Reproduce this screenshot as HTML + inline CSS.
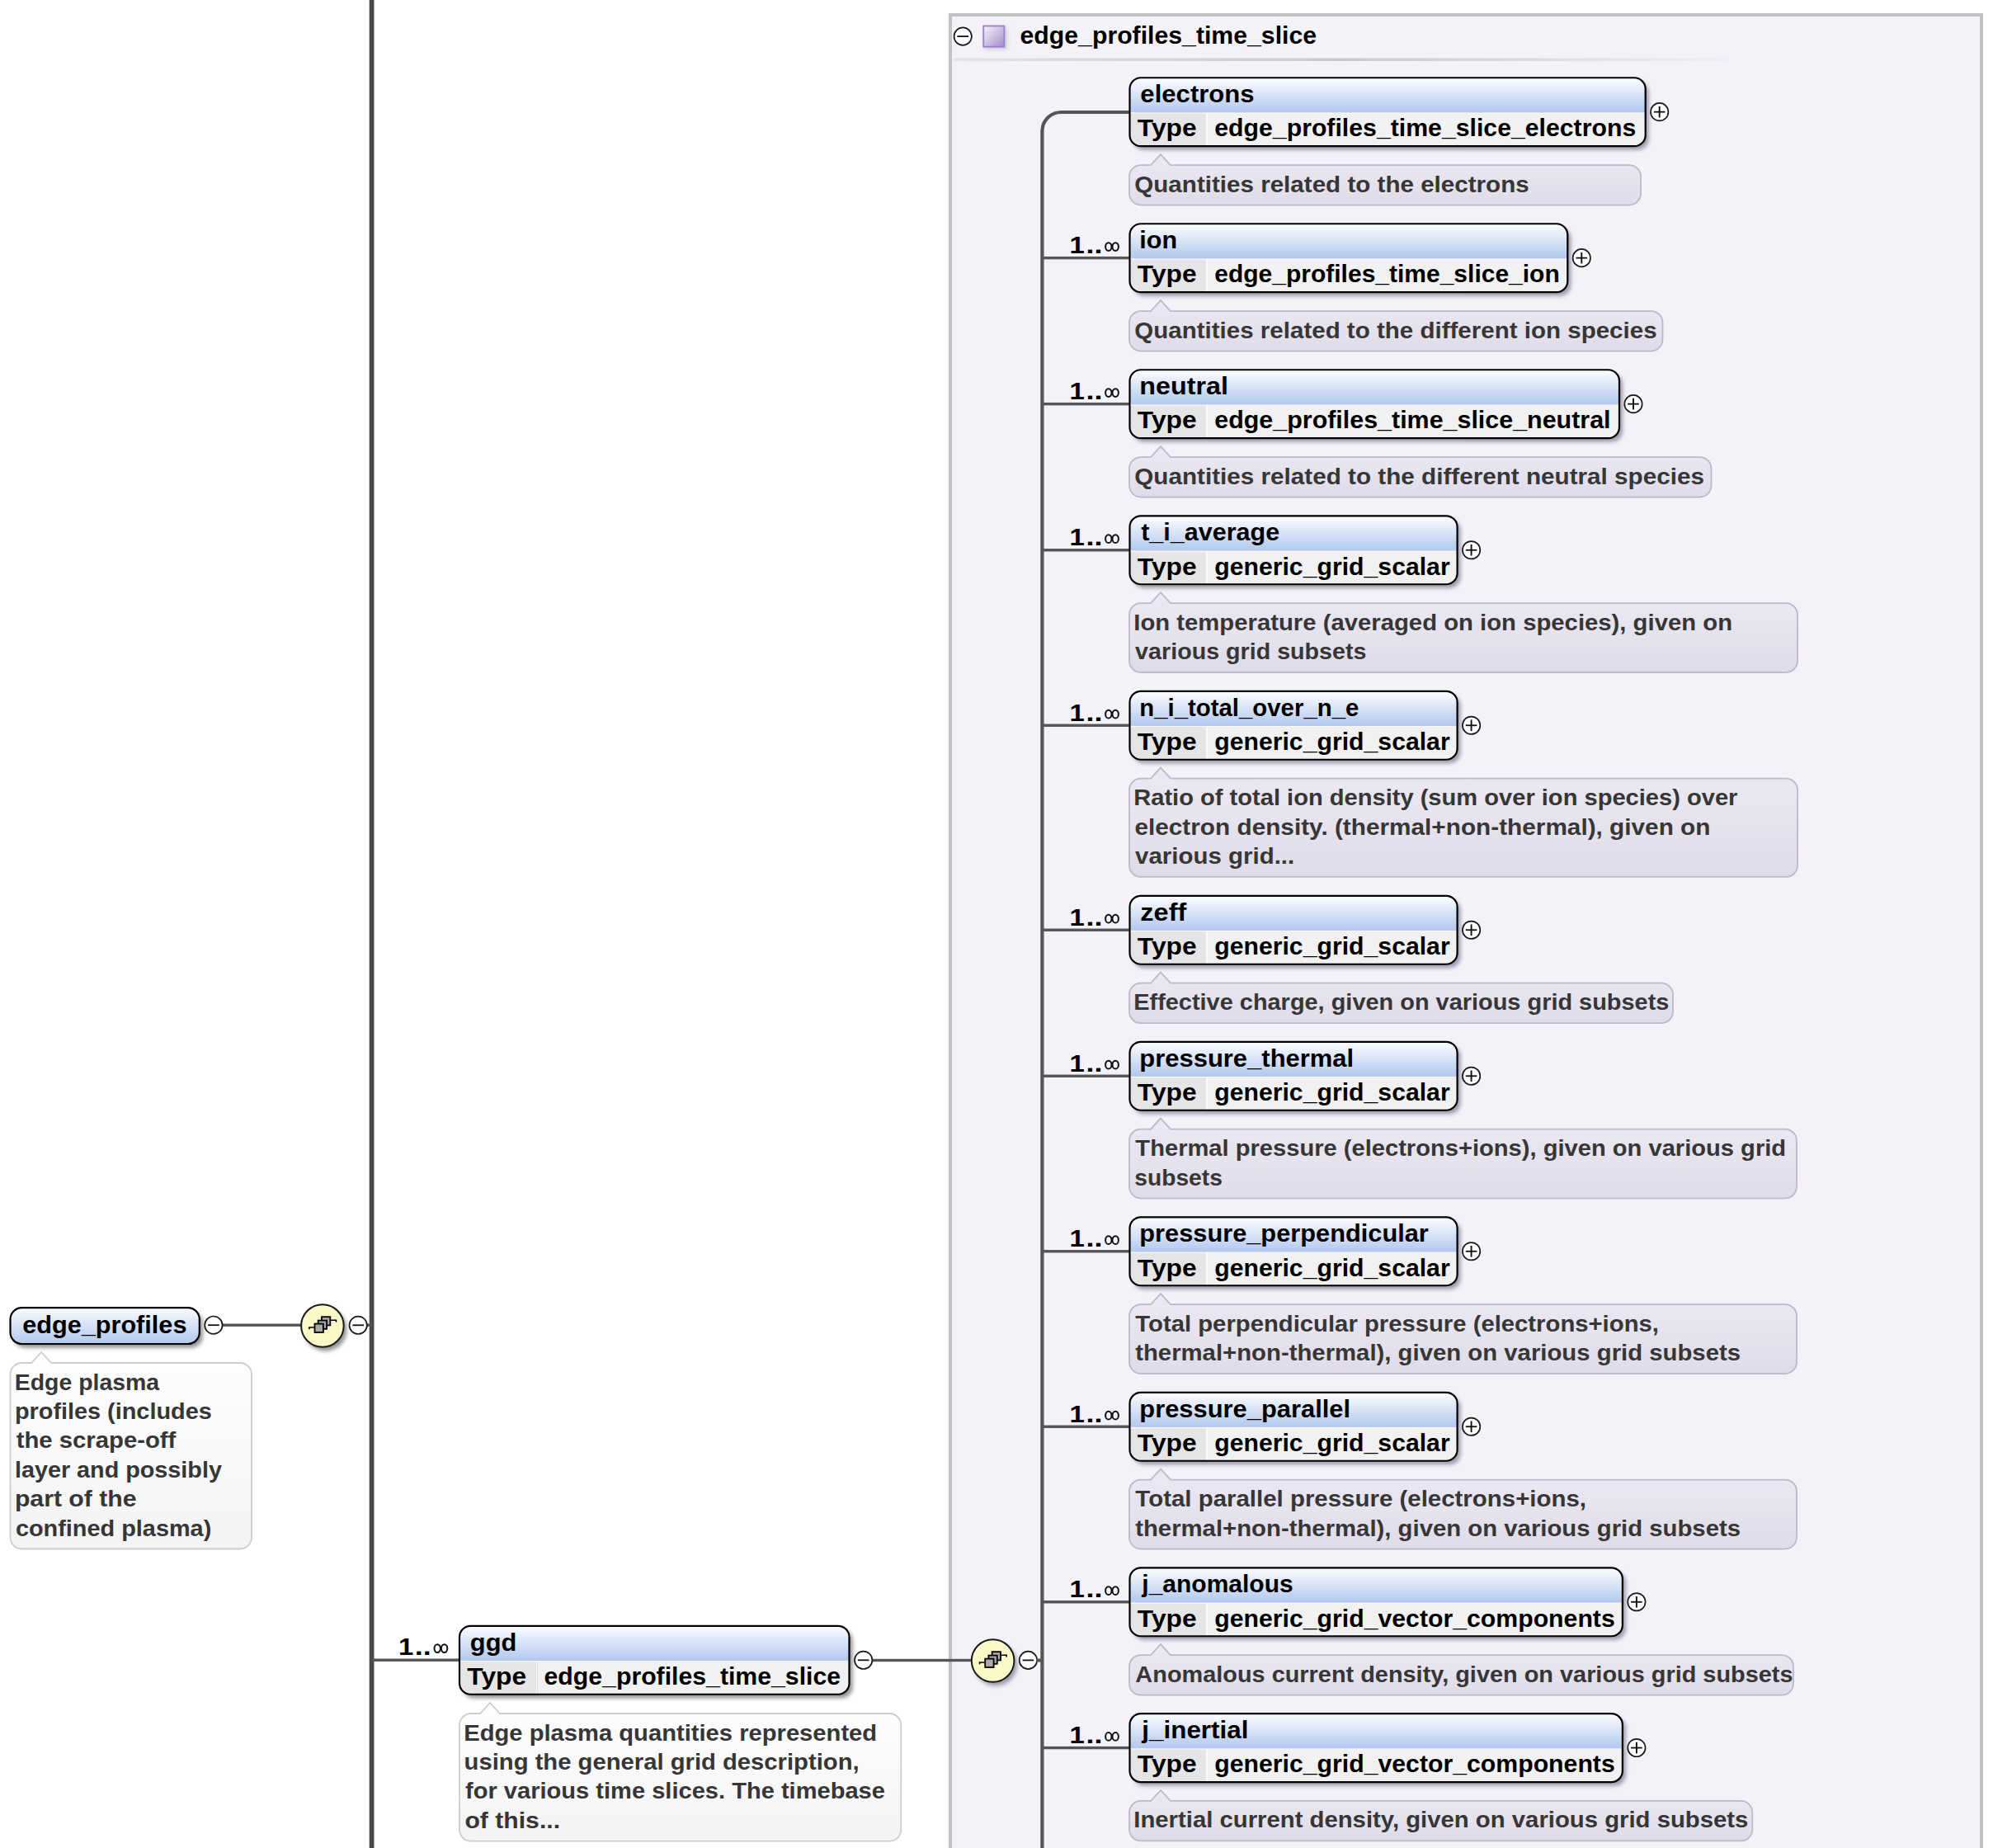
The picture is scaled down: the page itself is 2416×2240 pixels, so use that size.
<!DOCTYPE html>
<html><head><meta charset="utf-8"><style>
html,body{margin:0;padding:0;background:#fff;width:2416px;height:2240px;overflow:hidden}
svg{display:block}
text{font-family:"Liberation Sans",sans-serif}
</style></head><body>
<svg width="2416" height="2240" viewBox="0 0 2416 2240">
<g>
<rect width="2416" height="2240" fill="#fff"/>
<defs>
<linearGradient id="hdr" x1="0" y1="0" x2="0" y2="1"><stop offset="0" stop-color="#ffffff"/><stop offset="1" stop-color="#b2c8ee"/></linearGradient>
<linearGradient id="pill" x1="0" y1="0" x2="0" y2="1"><stop offset="0" stop-color="#f9fbff"/><stop offset="1" stop-color="#b2c8ee"/></linearGradient>
<linearGradient id="annl" x1="0" y1="0" x2="0" y2="1"><stop offset="0" stop-color="#ede9f4"/><stop offset="1" stop-color="#dfdbe8"/></linearGradient>
<linearGradient id="annw" x1="0" y1="0" x2="0" y2="1"><stop offset="0" stop-color="#fefefe"/><stop offset="1" stop-color="#f3f3f3"/></linearGradient>
<linearGradient id="sep" x1="0" y1="0" x2="1" y2="0"><stop offset="0" stop-color="#e4e2ea"/><stop offset="0.5" stop-color="#c9c9c9"/><stop offset="1" stop-color="#f0eef6"/></linearGradient>
<linearGradient id="purp" x1="0" y1="0" x2="1" y2="1"><stop offset="0" stop-color="#f6f4fb"/><stop offset="1" stop-color="#a48ccc"/></linearGradient>
<filter id="blur" x="-20%" y="-40%" width="140%" height="180%"><feGaussianBlur stdDeviation="2.6"/></filter>
</defs>
<rect x="1152" y="18" width="1250" height="2240" fill="#f4f2f8" stroke="#c2c2c2" stroke-width="4"/>
<rect x="1156" y="70.5" width="940" height="3.5" fill="url(#sep)"/>
<circle cx="1167.2" cy="44.1" r="10.7" fill="#fff" stroke="#1a1a1a" stroke-width="1.7"/>
<line x1="1160.4" y1="44.1" x2="1174.0" y2="44.1" stroke="#111" stroke-width="1.8"/>
<rect x="1194" y="33" width="27" height="27" fill="#c4c4c4" opacity="0.8" filter="url(#blur)"/>
<rect x="1192.2" y="31.5" width="25.2" height="25.2" fill="url(#purp)" stroke="#9a7fcf" stroke-width="1.8"/>
<text x="1236.57" y="53.40" font-size="29.46" fill="#000" font-weight="bold" textLength="359.54" lengthAdjust="spacingAndGlyphs">edge_profiles_time_slice</text>
<rect x="447.70000000000005" y="0" width="5.8" height="2240" fill="#4a4a4a"/>
<path d="M26.5,1585.2 H227.8 A14,14 0 0 1 241.8,1599.2 V1615 A14,14 0 0 1 227.8,1629 H26.5 A14,14 0 0 1 12.5,1615 V1599.2 A14,14 0 0 1 26.5,1585.2 Z" transform="translate(4,4.5)" fill="#555555" opacity="0.65" filter="url(#blur)"/>
<path d="M26.5,1585.2 H227.8 A14,14 0 0 1 241.8,1599.2 V1615 A14,14 0 0 1 227.8,1629 H26.5 A14,14 0 0 1 12.5,1615 V1599.2 A14,14 0 0 1 26.5,1585.2 Z" fill="url(#pill)" stroke="#000" stroke-width="2.2"/>
<text x="27.17" y="1615.50" font-size="29.46" fill="#000" font-weight="bold" textLength="199.30" lengthAdjust="spacingAndGlyphs">edge_profiles</text>
<rect x="270" y="1604.5" width="96" height="3.4" fill="#555"/>
<circle cx="258.9" cy="1606.2" r="10.7" fill="#fff" stroke="#1a1a1a" stroke-width="1.7"/>
<line x1="252.09999999999997" y1="1606.2" x2="265.7" y2="1606.2" stroke="#111" stroke-width="1.8"/>
<circle cx="394.4" cy="1611.5" r="26" fill="#555" opacity="0.65" filter="url(#blur)"/>
<circle cx="390.9" cy="1607" r="25.8" fill="#fbf8c8" stroke="#1a1a1a" stroke-width="2"/>
<path d="M374.9 1611.2 V1609 H380.9 M400.9 1600.3 H407.5 V1602.5" fill="none" stroke="#000" stroke-width="1.6"/>
<rect x="389.9" y="1596.2" width="10.4" height="10.200000000000001" fill="#a9a9a9" stroke="#000" stroke-width="1.8"/>
<rect x="385.7" y="1600.6" width="10.4" height="10.2" fill="#a9a9a9" stroke="#000" stroke-width="1.8"/>
<rect x="381.5" y="1604.6" width="10.4" height="10.4" fill="#a9a9a9" stroke="#000" stroke-width="1.8"/>
<rect x="444" y="1604.5" width="7" height="3.4" fill="#555"/>
<circle cx="434.2" cy="1606.3" r="10.7" fill="#fff" stroke="#1a1a1a" stroke-width="1.7"/>
<line x1="427.4" y1="1606.3" x2="441.0" y2="1606.3" stroke="#111" stroke-width="1.8"/>
<path d="M26.5,1652 H38.2 L50.2,1639 L62.2,1652 H291 A14,14 0 0 1 305,1666 V1863.5 A14,14 0 0 1 291,1877.5 H26.5 A14,14 0 0 1 12.5,1863.5 V1666 A14,14 0 0 1 26.5,1652 Z" fill="url(#annw)" stroke="#cdcdcd" stroke-width="1.8"/>
<text x="17.76" y="1684.50" font-size="27.33" fill="#363636" font-weight="bold" textLength="175.35" lengthAdjust="spacingAndGlyphs">Edge plasma</text>
<text x="17.95" y="1719.90" font-size="27.33" fill="#363636" font-weight="bold" textLength="238.79" lengthAdjust="spacingAndGlyphs">profiles (includes</text>
<text x="19.68" y="1755.30" font-size="27.33" fill="#363636" font-weight="bold" textLength="193.70" lengthAdjust="spacingAndGlyphs">the scrape-off</text>
<text x="17.95" y="1790.70" font-size="27.33" fill="#363636" font-weight="bold" textLength="250.98" lengthAdjust="spacingAndGlyphs">layer and possibly</text>
<text x="17.95" y="1826.10" font-size="27.33" fill="#363636" font-weight="bold" textLength="147.58" lengthAdjust="spacingAndGlyphs">part of the</text>
<text x="18.95" y="1861.50" font-size="27.33" fill="#363636" font-weight="bold" textLength="237.32" lengthAdjust="spacingAndGlyphs">confined plasma)</text>
<rect x="450.6" y="2010.5" width="106.39999999999998" height="3.4" fill="#555"/>
<text x="483.03" y="2006.30" font-size="29.46" fill="#000" font-weight="bold" textLength="18.30" lengthAdjust="spacingAndGlyphs">1</text>
<text x="502.83" y="2006.30" font-size="29.46" fill="#000" font-weight="bold" textLength="9.99" lengthAdjust="spacingAndGlyphs">.</text>
<text x="512.82" y="2006.30" font-size="29.46" fill="#000" font-weight="bold" textLength="9.99" lengthAdjust="spacingAndGlyphs">.</text>
<ellipse cx="530.2" cy="1998.1" rx="3.7" ry="4.9" fill="none" stroke="#111" stroke-width="2.0"/>
<ellipse cx="538.6" cy="1998.1" rx="3.7" ry="4.9" fill="none" stroke="#111" stroke-width="2.0"/>
<path d="M570.5,1970.86 H1016.0 A13.5,13.5 0 0 1 1029.5,1984.36 V2040.2599999999998 A13.5,13.5 0 0 1 1016.0,2053.7599999999998 H570.5 A13.5,13.5 0 0 1 557,2040.2599999999998 V1984.36 A13.5,13.5 0 0 1 570.5,1970.86 Z" transform="translate(4,4.5)" fill="#555555" opacity="0.65" filter="url(#blur)"/>
<clipPath id="c1"><path d="M570.5,1970.86 H1016.0 A13.5,13.5 0 0 1 1029.5,1984.36 V2040.2599999999998 A13.5,13.5 0 0 1 1016.0,2053.7599999999998 H570.5 A13.5,13.5 0 0 1 557,2040.2599999999998 V1984.36 A13.5,13.5 0 0 1 570.5,1970.86 Z"/></clipPath>
<g clip-path="url(#c1)">
<rect x="556" y="1969.86" width="474.5" height="43" fill="url(#hdr)"/>
<rect x="556" y="2012.86" width="474.5" height="2" fill="#f8f8f8"/>
<rect x="556" y="2014.36" width="93.29999999999995" height="40.399999999999864" fill="#e5e5e5"/>
<rect x="649.3" y="2014.36" width="2" height="40.399999999999864" fill="#fafafa"/>
<rect x="651.3" y="2014.36" width="379.20000000000005" height="40.399999999999864" fill="#f1f1f1"/>
</g>
<path d="M570.5,1970.86 H1016.0 A13.5,13.5 0 0 1 1029.5,1984.36 V2040.2599999999998 A13.5,13.5 0 0 1 1016.0,2053.7599999999998 H570.5 A13.5,13.5 0 0 1 557,2040.2599999999998 V1984.36 A13.5,13.5 0 0 1 570.5,1970.86 Z" fill="none" stroke="#000" stroke-width="2.2"/>
<text x="569.82" y="2000.66" font-size="29.46" fill="#000" font-weight="bold" textLength="56.48" lengthAdjust="spacingAndGlyphs">ggd</text>
<text x="566.37" y="2042.06" font-size="29.46" fill="#000" font-weight="bold" textLength="71.75" lengthAdjust="spacingAndGlyphs">Type</text>
<text x="659.57" y="2042.06" font-size="29.46" fill="#000" font-weight="bold" textLength="359.54" lengthAdjust="spacingAndGlyphs">edge_profiles_time_slice</text>
<path d="M571,2077 H582 L594,2064 L606,2077 H1078.3 A14,14 0 0 1 1092.3,2091 V2217.7 A14,14 0 0 1 1078.3,2231.7 H571 A14,14 0 0 1 557,2217.7 V2091 A14,14 0 0 1 571,2077 Z" fill="url(#annw)" stroke="#cdcdcd" stroke-width="1.8"/>
<text x="562.26" y="2109.50" font-size="27.33" fill="#363636" font-weight="bold" textLength="500.89" lengthAdjust="spacingAndGlyphs">Edge plasma quantities represented</text>
<text x="562.59" y="2144.90" font-size="27.33" fill="#363636" font-weight="bold" textLength="479.08" lengthAdjust="spacingAndGlyphs">using the general grid description,</text>
<text x="564.04" y="2180.30" font-size="27.33" fill="#363636" font-weight="bold" textLength="508.93" lengthAdjust="spacingAndGlyphs">for various time slices. The timebase</text>
<text x="563.45" y="2215.70" font-size="27.33" fill="#363636" font-weight="bold" textLength="115.60" lengthAdjust="spacingAndGlyphs">of this...</text>
<rect x="1057" y="2010.8" width="121" height="3.4" fill="#555"/>
<circle cx="1046.7" cy="2012.3" r="10.7" fill="#fff" stroke="#1a1a1a" stroke-width="1.7"/>
<line x1="1039.9" y1="2012.3" x2="1053.5" y2="2012.3" stroke="#111" stroke-width="1.8"/>
<circle cx="1207.1" cy="2017.5" r="26" fill="#6f6885" opacity="0.65" filter="url(#blur)"/>
<circle cx="1203.6" cy="2013" r="25.8" fill="#fbf8c8" stroke="#1a1a1a" stroke-width="2"/>
<path d="M1187.6 2017.2 V2015 H1193.6 M1213.6 2006.3 H1220.1999999999998 V2008.5" fill="none" stroke="#000" stroke-width="1.6"/>
<rect x="1202.6" y="2002.2" width="10.4" height="10.200000000000001" fill="#a9a9a9" stroke="#000" stroke-width="1.8"/>
<rect x="1198.3999999999999" y="2006.6" width="10.4" height="10.2" fill="#a9a9a9" stroke="#000" stroke-width="1.8"/>
<rect x="1194.1999999999998" y="2010.6" width="10.4" height="10.4" fill="#a9a9a9" stroke="#000" stroke-width="1.8"/>
<circle cx="1246.4" cy="2012.4" r="10.7" fill="#fff" stroke="#1a1a1a" stroke-width="1.7"/>
<line x1="1239.6000000000001" y1="2012.4" x2="1253.2" y2="2012.4" stroke="#111" stroke-width="1.8"/>
<rect x="1256" y="2010.5" width="7" height="4" fill="#555"/>
<path d="M1263.4,2245 V158.5 A23,23 0 0 1 1286.4,136 H1370" fill="none" stroke="#555" stroke-width="4.2"/>
<path d="M1383.0,94.26 H1981.2 A13.5,13.5 0 0 1 1994.7,107.76 V163.66000000000003 A13.5,13.5 0 0 1 1981.2,177.16000000000003 H1383.0 A13.5,13.5 0 0 1 1369.5,163.66000000000003 V107.76 A13.5,13.5 0 0 1 1383.0,94.26 Z" transform="translate(4,4.5)" fill="#6f6885" opacity="0.65" filter="url(#blur)"/>
<clipPath id="c2"><path d="M1383.0,94.26 H1981.2 A13.5,13.5 0 0 1 1994.7,107.76 V163.66000000000003 A13.5,13.5 0 0 1 1981.2,177.16000000000003 H1383.0 A13.5,13.5 0 0 1 1369.5,163.66000000000003 V107.76 A13.5,13.5 0 0 1 1383.0,94.26 Z"/></clipPath>
<g clip-path="url(#c2)">
<rect x="1368.5" y="93.26" width="627.2" height="43" fill="url(#hdr)"/>
<rect x="1368.5" y="136.26" width="627.2" height="2" fill="#f8f8f8"/>
<rect x="1368.5" y="137.76" width="93.5" height="40.40000000000002" fill="#e5e5e5"/>
<rect x="1462" y="137.76" width="2" height="40.40000000000002" fill="#fafafa"/>
<rect x="1464" y="137.76" width="531.7" height="40.40000000000002" fill="#f1f1f1"/>
</g>
<path d="M1383.0,94.26 H1981.2 A13.5,13.5 0 0 1 1994.7,107.76 V163.66000000000003 A13.5,13.5 0 0 1 1981.2,177.16000000000003 H1383.0 A13.5,13.5 0 0 1 1369.5,163.66000000000003 V107.76 A13.5,13.5 0 0 1 1383.0,94.26 Z" fill="none" stroke="#000" stroke-width="2.2"/>
<text x="1382.37" y="124.06" font-size="29.46" fill="#000" font-weight="bold" textLength="138.27" lengthAdjust="spacingAndGlyphs">electrons</text>
<text x="1378.87" y="165.46" font-size="29.46" fill="#000" font-weight="bold" textLength="71.75" lengthAdjust="spacingAndGlyphs">Type</text>
<text x="1472.27" y="165.46" font-size="29.46" fill="#000" font-weight="bold" textLength="510.96" lengthAdjust="spacingAndGlyphs">edge_profiles_time_slice_electrons</text>
<circle cx="2011.7" cy="135.66" r="10.7" fill="#fff" stroke="#1a1a1a" stroke-width="1.7"/>
<line x1="2004.9" y1="135.66" x2="2018.5" y2="135.66" stroke="#111" stroke-width="1.8"/>
<line x1="2011.7" y1="128.85999999999999" x2="2011.7" y2="142.46" stroke="#111" stroke-width="1.9"/>
<path d="M1383,200.06 H1395 L1407,187.06 L1419,200.06 H1975 A14,14 0 0 1 1989,214.06 V234.56 A14,14 0 0 1 1975,248.56 H1383 A14,14 0 0 1 1369,234.56 V214.06 A14,14 0 0 1 1383,200.06 Z" fill="url(#annl)" stroke="#bdb8ca" stroke-width="1.8"/>
<text x="1375.28" y="232.56" font-size="27.33" fill="#363636" font-weight="bold" textLength="478.43" lengthAdjust="spacingAndGlyphs">Quantities related to the electrons</text>
<rect x="1263.4" y="310.96" width="106.59999999999991" height="3.4" fill="#555"/>
<text x="1296.63" y="307.26" font-size="29.46" fill="#000" font-weight="bold" textLength="18.30" lengthAdjust="spacingAndGlyphs">1</text>
<text x="1316.43" y="307.26" font-size="29.46" fill="#000" font-weight="bold" textLength="9.99" lengthAdjust="spacingAndGlyphs">.</text>
<text x="1326.42" y="307.26" font-size="29.46" fill="#000" font-weight="bold" textLength="9.99" lengthAdjust="spacingAndGlyphs">.</text>
<ellipse cx="1343.7999999999997" cy="299.06" rx="3.7" ry="4.9" fill="none" stroke="#111" stroke-width="2.0"/>
<ellipse cx="1352.1999999999998" cy="299.06" rx="3.7" ry="4.9" fill="none" stroke="#111" stroke-width="2.0"/>
<path d="M1383.0,271.26 H1886.8 A13.5,13.5 0 0 1 1900.3,284.76 V340.65999999999997 A13.5,13.5 0 0 1 1886.8,354.15999999999997 H1383.0 A13.5,13.5 0 0 1 1369.5,340.65999999999997 V284.76 A13.5,13.5 0 0 1 1383.0,271.26 Z" transform="translate(4,4.5)" fill="#6f6885" opacity="0.65" filter="url(#blur)"/>
<clipPath id="c3"><path d="M1383.0,271.26 H1886.8 A13.5,13.5 0 0 1 1900.3,284.76 V340.65999999999997 A13.5,13.5 0 0 1 1886.8,354.15999999999997 H1383.0 A13.5,13.5 0 0 1 1369.5,340.65999999999997 V284.76 A13.5,13.5 0 0 1 1383.0,271.26 Z"/></clipPath>
<g clip-path="url(#c3)">
<rect x="1368.5" y="270.26" width="532.8" height="43" fill="url(#hdr)"/>
<rect x="1368.5" y="313.26" width="532.8" height="2" fill="#f8f8f8"/>
<rect x="1368.5" y="314.76" width="93.5" height="40.39999999999998" fill="#e5e5e5"/>
<rect x="1462" y="314.76" width="2" height="40.39999999999998" fill="#fafafa"/>
<rect x="1464" y="314.76" width="437.29999999999995" height="40.39999999999998" fill="#f1f1f1"/>
</g>
<path d="M1383.0,271.26 H1886.8 A13.5,13.5 0 0 1 1900.3,284.76 V340.65999999999997 A13.5,13.5 0 0 1 1886.8,354.15999999999997 H1383.0 A13.5,13.5 0 0 1 1369.5,340.65999999999997 V284.76 A13.5,13.5 0 0 1 1383.0,271.26 Z" fill="none" stroke="#000" stroke-width="2.2"/>
<text x="1381.29" y="301.06" font-size="29.46" fill="#000" font-weight="bold" textLength="45.81" lengthAdjust="spacingAndGlyphs">ion</text>
<text x="1378.87" y="342.46" font-size="29.46" fill="#000" font-weight="bold" textLength="71.75" lengthAdjust="spacingAndGlyphs">Type</text>
<text x="1472.27" y="342.46" font-size="29.46" fill="#000" font-weight="bold" textLength="418.50" lengthAdjust="spacingAndGlyphs">edge_profiles_time_slice_ion</text>
<circle cx="1917.3" cy="312.65999999999997" r="10.7" fill="#fff" stroke="#1a1a1a" stroke-width="1.7"/>
<line x1="1910.5" y1="312.65999999999997" x2="1924.1" y2="312.65999999999997" stroke="#111" stroke-width="1.8"/>
<line x1="1917.3" y1="305.85999999999996" x2="1917.3" y2="319.46" stroke="#111" stroke-width="1.9"/>
<path d="M1383,377.06 H1395 L1407,364.06 L1419,377.06 H2001.5 A14,14 0 0 1 2015.5,391.06 V411.56 A14,14 0 0 1 2001.5,425.56 H1383 A14,14 0 0 1 1369,411.56 V391.06 A14,14 0 0 1 1383,377.06 Z" fill="url(#annl)" stroke="#bdb8ca" stroke-width="1.8"/>
<text x="1375.28" y="409.56" font-size="27.33" fill="#363636" font-weight="bold" textLength="633.30" lengthAdjust="spacingAndGlyphs">Quantities related to the different ion species</text>
<rect x="1263.4" y="487.96" width="106.59999999999991" height="3.4" fill="#555"/>
<text x="1296.63" y="484.26" font-size="29.46" fill="#000" font-weight="bold" textLength="18.30" lengthAdjust="spacingAndGlyphs">1</text>
<text x="1316.43" y="484.26" font-size="29.46" fill="#000" font-weight="bold" textLength="9.99" lengthAdjust="spacingAndGlyphs">.</text>
<text x="1326.42" y="484.26" font-size="29.46" fill="#000" font-weight="bold" textLength="9.99" lengthAdjust="spacingAndGlyphs">.</text>
<ellipse cx="1343.7999999999997" cy="476.06" rx="3.7" ry="4.9" fill="none" stroke="#111" stroke-width="2.0"/>
<ellipse cx="1352.1999999999998" cy="476.06" rx="3.7" ry="4.9" fill="none" stroke="#111" stroke-width="2.0"/>
<path d="M1383.0,448.26 H1949.5 A13.5,13.5 0 0 1 1963,461.76 V517.66 A13.5,13.5 0 0 1 1949.5,531.16 H1383.0 A13.5,13.5 0 0 1 1369.5,517.66 V461.76 A13.5,13.5 0 0 1 1383.0,448.26 Z" transform="translate(4,4.5)" fill="#6f6885" opacity="0.65" filter="url(#blur)"/>
<clipPath id="c4"><path d="M1383.0,448.26 H1949.5 A13.5,13.5 0 0 1 1963,461.76 V517.66 A13.5,13.5 0 0 1 1949.5,531.16 H1383.0 A13.5,13.5 0 0 1 1369.5,517.66 V461.76 A13.5,13.5 0 0 1 1383.0,448.26 Z"/></clipPath>
<g clip-path="url(#c4)">
<rect x="1368.5" y="447.26" width="595.5" height="43" fill="url(#hdr)"/>
<rect x="1368.5" y="490.26" width="595.5" height="2" fill="#f8f8f8"/>
<rect x="1368.5" y="491.76" width="93.5" height="40.39999999999998" fill="#e5e5e5"/>
<rect x="1462" y="491.76" width="2" height="40.39999999999998" fill="#fafafa"/>
<rect x="1464" y="491.76" width="500" height="40.39999999999998" fill="#f1f1f1"/>
</g>
<path d="M1383.0,448.26 H1949.5 A13.5,13.5 0 0 1 1963,461.76 V517.66 A13.5,13.5 0 0 1 1949.5,531.16 H1383.0 A13.5,13.5 0 0 1 1369.5,517.66 V461.76 A13.5,13.5 0 0 1 1383.0,448.26 Z" fill="none" stroke="#000" stroke-width="2.2"/>
<text x="1381.29" y="478.06" font-size="29.46" fill="#000" font-weight="bold" textLength="107.59" lengthAdjust="spacingAndGlyphs">neutral</text>
<text x="1378.87" y="519.46" font-size="29.46" fill="#000" font-weight="bold" textLength="71.75" lengthAdjust="spacingAndGlyphs">Type</text>
<text x="1472.27" y="519.46" font-size="29.46" fill="#000" font-weight="bold" textLength="480.28" lengthAdjust="spacingAndGlyphs">edge_profiles_time_slice_neutral</text>
<circle cx="1980" cy="489.65999999999997" r="10.7" fill="#fff" stroke="#1a1a1a" stroke-width="1.7"/>
<line x1="1973.2" y1="489.65999999999997" x2="1986.8" y2="489.65999999999997" stroke="#111" stroke-width="1.8"/>
<line x1="1980" y1="482.85999999999996" x2="1980" y2="496.46" stroke="#111" stroke-width="1.9"/>
<path d="M1383,554.06 H1395 L1407,541.06 L1419,554.06 H2060.5 A14,14 0 0 1 2074.5,568.06 V588.56 A14,14 0 0 1 2060.5,602.56 H1383 A14,14 0 0 1 1369,588.56 V568.06 A14,14 0 0 1 1383,554.06 Z" fill="url(#annl)" stroke="#bdb8ca" stroke-width="1.8"/>
<text x="1375.28" y="586.56" font-size="27.33" fill="#363636" font-weight="bold" textLength="690.62" lengthAdjust="spacingAndGlyphs">Quantities related to the different neutral species</text>
<rect x="1263.4" y="665.06" width="106.59999999999991" height="3.4" fill="#555"/>
<text x="1296.63" y="661.36" font-size="29.46" fill="#000" font-weight="bold" textLength="18.30" lengthAdjust="spacingAndGlyphs">1</text>
<text x="1316.43" y="661.36" font-size="29.46" fill="#000" font-weight="bold" textLength="9.99" lengthAdjust="spacingAndGlyphs">.</text>
<text x="1326.42" y="661.36" font-size="29.46" fill="#000" font-weight="bold" textLength="9.99" lengthAdjust="spacingAndGlyphs">.</text>
<ellipse cx="1343.7999999999997" cy="653.16" rx="3.7" ry="4.9" fill="none" stroke="#111" stroke-width="2.0"/>
<ellipse cx="1352.1999999999998" cy="653.16" rx="3.7" ry="4.9" fill="none" stroke="#111" stroke-width="2.0"/>
<path d="M1383.0,625.36 H1753.1 A13.5,13.5 0 0 1 1766.6,638.86 V694.76 A13.5,13.5 0 0 1 1753.1,708.26 H1383.0 A13.5,13.5 0 0 1 1369.5,694.76 V638.86 A13.5,13.5 0 0 1 1383.0,625.36 Z" transform="translate(4,4.5)" fill="#6f6885" opacity="0.65" filter="url(#blur)"/>
<clipPath id="c5"><path d="M1383.0,625.36 H1753.1 A13.5,13.5 0 0 1 1766.6,638.86 V694.76 A13.5,13.5 0 0 1 1753.1,708.26 H1383.0 A13.5,13.5 0 0 1 1369.5,694.76 V638.86 A13.5,13.5 0 0 1 1383.0,625.36 Z"/></clipPath>
<g clip-path="url(#c5)">
<rect x="1368.5" y="624.36" width="399.0999999999999" height="43" fill="url(#hdr)"/>
<rect x="1368.5" y="667.36" width="399.0999999999999" height="2" fill="#f8f8f8"/>
<rect x="1368.5" y="668.86" width="93.5" height="40.39999999999998" fill="#e5e5e5"/>
<rect x="1462" y="668.86" width="2" height="40.39999999999998" fill="#fafafa"/>
<rect x="1464" y="668.86" width="303.5999999999999" height="40.39999999999998" fill="#f1f1f1"/>
</g>
<path d="M1383.0,625.36 H1753.1 A13.5,13.5 0 0 1 1766.6,638.86 V694.76 A13.5,13.5 0 0 1 1753.1,708.26 H1383.0 A13.5,13.5 0 0 1 1369.5,694.76 V638.86 A13.5,13.5 0 0 1 1383.0,625.36 Z" fill="none" stroke="#000" stroke-width="2.2"/>
<text x="1383.15" y="655.16" font-size="29.46" fill="#000" font-weight="bold" textLength="168.00" lengthAdjust="spacingAndGlyphs">t_i_average</text>
<text x="1378.87" y="696.56" font-size="29.46" fill="#000" font-weight="bold" textLength="71.75" lengthAdjust="spacingAndGlyphs">Type</text>
<text x="1472.22" y="696.56" font-size="29.46" fill="#000" font-weight="bold" textLength="285.46" lengthAdjust="spacingAndGlyphs">generic_grid_scalar</text>
<circle cx="1783.6" cy="666.76" r="10.7" fill="#fff" stroke="#1a1a1a" stroke-width="1.7"/>
<line x1="1776.8" y1="666.76" x2="1790.3999999999999" y2="666.76" stroke="#111" stroke-width="1.8"/>
<line x1="1783.6" y1="659.96" x2="1783.6" y2="673.56" stroke="#111" stroke-width="1.9"/>
<path d="M1383,731.16 H1395 L1407,718.16 L1419,731.16 H2165 A14,14 0 0 1 2179,745.16 V801.06 A14,14 0 0 1 2165,815.06 H1383 A14,14 0 0 1 1369,801.06 V745.16 A14,14 0 0 1 1383,731.16 Z" fill="url(#annl)" stroke="#bdb8ca" stroke-width="1.8"/>
<text x="1374.26" y="763.66" font-size="27.33" fill="#363636" font-weight="bold" textLength="725.77" lengthAdjust="spacingAndGlyphs">Ion temperature (averaged on ion species), given on</text>
<text x="1376.13" y="799.06" font-size="27.33" fill="#363636" font-weight="bold" textLength="280.36" lengthAdjust="spacingAndGlyphs">various grid subsets</text>
<rect x="1263.4" y="877.56" width="106.59999999999991" height="3.4" fill="#555"/>
<text x="1296.63" y="873.86" font-size="29.46" fill="#000" font-weight="bold" textLength="18.30" lengthAdjust="spacingAndGlyphs">1</text>
<text x="1316.43" y="873.86" font-size="29.46" fill="#000" font-weight="bold" textLength="9.99" lengthAdjust="spacingAndGlyphs">.</text>
<text x="1326.42" y="873.86" font-size="29.46" fill="#000" font-weight="bold" textLength="9.99" lengthAdjust="spacingAndGlyphs">.</text>
<ellipse cx="1343.7999999999997" cy="865.66" rx="3.7" ry="4.9" fill="none" stroke="#111" stroke-width="2.0"/>
<ellipse cx="1352.1999999999998" cy="865.66" rx="3.7" ry="4.9" fill="none" stroke="#111" stroke-width="2.0"/>
<path d="M1383.0,837.86 H1753.1 A13.5,13.5 0 0 1 1766.6,851.36 V907.26 A13.5,13.5 0 0 1 1753.1,920.76 H1383.0 A13.5,13.5 0 0 1 1369.5,907.26 V851.36 A13.5,13.5 0 0 1 1383.0,837.86 Z" transform="translate(4,4.5)" fill="#6f6885" opacity="0.65" filter="url(#blur)"/>
<clipPath id="c6"><path d="M1383.0,837.86 H1753.1 A13.5,13.5 0 0 1 1766.6,851.36 V907.26 A13.5,13.5 0 0 1 1753.1,920.76 H1383.0 A13.5,13.5 0 0 1 1369.5,907.26 V851.36 A13.5,13.5 0 0 1 1383.0,837.86 Z"/></clipPath>
<g clip-path="url(#c6)">
<rect x="1368.5" y="836.86" width="399.0999999999999" height="43" fill="url(#hdr)"/>
<rect x="1368.5" y="879.86" width="399.0999999999999" height="2" fill="#f8f8f8"/>
<rect x="1368.5" y="881.36" width="93.5" height="40.39999999999998" fill="#e5e5e5"/>
<rect x="1462" y="881.36" width="2" height="40.39999999999998" fill="#fafafa"/>
<rect x="1464" y="881.36" width="303.5999999999999" height="40.39999999999998" fill="#f1f1f1"/>
</g>
<path d="M1383.0,837.86 H1753.1 A13.5,13.5 0 0 1 1766.6,851.36 V907.26 A13.5,13.5 0 0 1 1753.1,920.76 H1383.0 A13.5,13.5 0 0 1 1369.5,907.26 V851.36 A13.5,13.5 0 0 1 1383.0,837.86 Z" fill="none" stroke="#000" stroke-width="2.2"/>
<text x="1381.29" y="867.66" font-size="29.46" fill="#000" font-weight="bold" textLength="266.04" lengthAdjust="spacingAndGlyphs">n_i_total_over_n_e</text>
<text x="1378.87" y="909.06" font-size="29.46" fill="#000" font-weight="bold" textLength="71.75" lengthAdjust="spacingAndGlyphs">Type</text>
<text x="1472.22" y="909.06" font-size="29.46" fill="#000" font-weight="bold" textLength="285.46" lengthAdjust="spacingAndGlyphs">generic_grid_scalar</text>
<circle cx="1783.6" cy="879.26" r="10.7" fill="#fff" stroke="#1a1a1a" stroke-width="1.7"/>
<line x1="1776.8" y1="879.26" x2="1790.3999999999999" y2="879.26" stroke="#111" stroke-width="1.8"/>
<line x1="1783.6" y1="872.46" x2="1783.6" y2="886.06" stroke="#111" stroke-width="1.9"/>
<path d="M1383,943.66 H1395 L1407,930.66 L1419,943.66 H2165 A14,14 0 0 1 2179,957.66 V1048.96 A14,14 0 0 1 2165,1062.96 H1383 A14,14 0 0 1 1369,1048.96 V957.66 A14,14 0 0 1 1383,943.66 Z" fill="url(#annl)" stroke="#bdb8ca" stroke-width="1.8"/>
<text x="1374.26" y="976.16" font-size="27.33" fill="#363636" font-weight="bold" textLength="732.19" lengthAdjust="spacingAndGlyphs">Ratio of total ion density (sum over ion species) over</text>
<text x="1375.45" y="1011.56" font-size="27.33" fill="#363636" font-weight="bold" textLength="698.02" lengthAdjust="spacingAndGlyphs">electron density. (thermal+non-thermal), given on</text>
<text x="1376.13" y="1046.96" font-size="27.33" fill="#363636" font-weight="bold" textLength="193.06" lengthAdjust="spacingAndGlyphs">various grid...</text>
<rect x="1263.4" y="1125.56" width="106.59999999999991" height="3.4" fill="#555"/>
<text x="1296.63" y="1121.86" font-size="29.46" fill="#000" font-weight="bold" textLength="18.30" lengthAdjust="spacingAndGlyphs">1</text>
<text x="1316.43" y="1121.86" font-size="29.46" fill="#000" font-weight="bold" textLength="9.99" lengthAdjust="spacingAndGlyphs">.</text>
<text x="1326.42" y="1121.86" font-size="29.46" fill="#000" font-weight="bold" textLength="9.99" lengthAdjust="spacingAndGlyphs">.</text>
<ellipse cx="1343.7999999999997" cy="1113.6599999999999" rx="3.7" ry="4.9" fill="none" stroke="#111" stroke-width="2.0"/>
<ellipse cx="1352.1999999999998" cy="1113.6599999999999" rx="3.7" ry="4.9" fill="none" stroke="#111" stroke-width="2.0"/>
<path d="M1383.0,1085.86 H1753.1 A13.5,13.5 0 0 1 1766.6,1099.36 V1155.26 A13.5,13.5 0 0 1 1753.1,1168.76 H1383.0 A13.5,13.5 0 0 1 1369.5,1155.26 V1099.36 A13.5,13.5 0 0 1 1383.0,1085.86 Z" transform="translate(4,4.5)" fill="#6f6885" opacity="0.65" filter="url(#blur)"/>
<clipPath id="c7"><path d="M1383.0,1085.86 H1753.1 A13.5,13.5 0 0 1 1766.6,1099.36 V1155.26 A13.5,13.5 0 0 1 1753.1,1168.76 H1383.0 A13.5,13.5 0 0 1 1369.5,1155.26 V1099.36 A13.5,13.5 0 0 1 1383.0,1085.86 Z"/></clipPath>
<g clip-path="url(#c7)">
<rect x="1368.5" y="1084.86" width="399.0999999999999" height="43" fill="url(#hdr)"/>
<rect x="1368.5" y="1127.86" width="399.0999999999999" height="2" fill="#f8f8f8"/>
<rect x="1368.5" y="1129.36" width="93.5" height="40.40000000000009" fill="#e5e5e5"/>
<rect x="1462" y="1129.36" width="2" height="40.40000000000009" fill="#fafafa"/>
<rect x="1464" y="1129.36" width="303.5999999999999" height="40.40000000000009" fill="#f1f1f1"/>
</g>
<path d="M1383.0,1085.86 H1753.1 A13.5,13.5 0 0 1 1766.6,1099.36 V1155.26 A13.5,13.5 0 0 1 1753.1,1168.76 H1383.0 A13.5,13.5 0 0 1 1369.5,1155.26 V1099.36 A13.5,13.5 0 0 1 1383.0,1085.86 Z" fill="none" stroke="#000" stroke-width="2.2"/>
<text x="1382.32" y="1115.66" font-size="29.46" fill="#000" font-weight="bold" textLength="56.03" lengthAdjust="spacingAndGlyphs">zeff</text>
<text x="1378.87" y="1157.06" font-size="29.46" fill="#000" font-weight="bold" textLength="71.75" lengthAdjust="spacingAndGlyphs">Type</text>
<text x="1472.22" y="1157.06" font-size="29.46" fill="#000" font-weight="bold" textLength="285.46" lengthAdjust="spacingAndGlyphs">generic_grid_scalar</text>
<circle cx="1783.6" cy="1127.26" r="10.7" fill="#fff" stroke="#1a1a1a" stroke-width="1.7"/>
<line x1="1776.8" y1="1127.26" x2="1790.3999999999999" y2="1127.26" stroke="#111" stroke-width="1.8"/>
<line x1="1783.6" y1="1120.46" x2="1783.6" y2="1134.06" stroke="#111" stroke-width="1.9"/>
<path d="M1383,1191.6599999999999 H1395 L1407,1178.6599999999999 L1419,1191.6599999999999 H2014 A14,14 0 0 1 2028,1205.6599999999999 V1226.1599999999999 A14,14 0 0 1 2014,1240.1599999999999 H1383 A14,14 0 0 1 1369,1226.1599999999999 V1205.6599999999999 A14,14 0 0 1 1383,1191.6599999999999 Z" fill="url(#annl)" stroke="#bdb8ca" stroke-width="1.8"/>
<text x="1374.26" y="1224.16" font-size="27.33" fill="#363636" font-weight="bold" textLength="649.14" lengthAdjust="spacingAndGlyphs">Effective charge, given on various grid subsets</text>
<rect x="1263.4" y="1302.56" width="106.59999999999991" height="3.4" fill="#555"/>
<text x="1296.63" y="1298.86" font-size="29.46" fill="#000" font-weight="bold" textLength="18.30" lengthAdjust="spacingAndGlyphs">1</text>
<text x="1316.43" y="1298.86" font-size="29.46" fill="#000" font-weight="bold" textLength="9.99" lengthAdjust="spacingAndGlyphs">.</text>
<text x="1326.42" y="1298.86" font-size="29.46" fill="#000" font-weight="bold" textLength="9.99" lengthAdjust="spacingAndGlyphs">.</text>
<ellipse cx="1343.7999999999997" cy="1290.6599999999999" rx="3.7" ry="4.9" fill="none" stroke="#111" stroke-width="2.0"/>
<ellipse cx="1352.1999999999998" cy="1290.6599999999999" rx="3.7" ry="4.9" fill="none" stroke="#111" stroke-width="2.0"/>
<path d="M1383.0,1262.86 H1753.1 A13.5,13.5 0 0 1 1766.6,1276.36 V1332.26 A13.5,13.5 0 0 1 1753.1,1345.76 H1383.0 A13.5,13.5 0 0 1 1369.5,1332.26 V1276.36 A13.5,13.5 0 0 1 1383.0,1262.86 Z" transform="translate(4,4.5)" fill="#6f6885" opacity="0.65" filter="url(#blur)"/>
<clipPath id="c8"><path d="M1383.0,1262.86 H1753.1 A13.5,13.5 0 0 1 1766.6,1276.36 V1332.26 A13.5,13.5 0 0 1 1753.1,1345.76 H1383.0 A13.5,13.5 0 0 1 1369.5,1332.26 V1276.36 A13.5,13.5 0 0 1 1383.0,1262.86 Z"/></clipPath>
<g clip-path="url(#c8)">
<rect x="1368.5" y="1261.86" width="399.0999999999999" height="43" fill="url(#hdr)"/>
<rect x="1368.5" y="1304.86" width="399.0999999999999" height="2" fill="#f8f8f8"/>
<rect x="1368.5" y="1306.36" width="93.5" height="40.40000000000009" fill="#e5e5e5"/>
<rect x="1462" y="1306.36" width="2" height="40.40000000000009" fill="#fafafa"/>
<rect x="1464" y="1306.36" width="303.5999999999999" height="40.40000000000009" fill="#f1f1f1"/>
</g>
<path d="M1383.0,1262.86 H1753.1 A13.5,13.5 0 0 1 1766.6,1276.36 V1332.26 A13.5,13.5 0 0 1 1753.1,1345.76 H1383.0 A13.5,13.5 0 0 1 1369.5,1332.26 V1276.36 A13.5,13.5 0 0 1 1383.0,1262.86 Z" fill="none" stroke="#000" stroke-width="2.2"/>
<text x="1381.29" y="1292.66" font-size="29.46" fill="#000" font-weight="bold" textLength="259.89" lengthAdjust="spacingAndGlyphs">pressure_thermal</text>
<text x="1378.87" y="1334.06" font-size="29.46" fill="#000" font-weight="bold" textLength="71.75" lengthAdjust="spacingAndGlyphs">Type</text>
<text x="1472.22" y="1334.06" font-size="29.46" fill="#000" font-weight="bold" textLength="285.46" lengthAdjust="spacingAndGlyphs">generic_grid_scalar</text>
<circle cx="1783.6" cy="1304.26" r="10.7" fill="#fff" stroke="#1a1a1a" stroke-width="1.7"/>
<line x1="1776.8" y1="1304.26" x2="1790.3999999999999" y2="1304.26" stroke="#111" stroke-width="1.8"/>
<line x1="1783.6" y1="1297.46" x2="1783.6" y2="1311.06" stroke="#111" stroke-width="1.9"/>
<path d="M1383,1368.6599999999999 H1395 L1407,1355.6599999999999 L1419,1368.6599999999999 H2164 A14,14 0 0 1 2178,1382.6599999999999 V1438.56 A14,14 0 0 1 2164,1452.56 H1383 A14,14 0 0 1 1369,1438.56 V1382.6599999999999 A14,14 0 0 1 1383,1368.6599999999999 Z" fill="url(#annl)" stroke="#bdb8ca" stroke-width="1.8"/>
<text x="1376.38" y="1401.16" font-size="27.33" fill="#363636" font-weight="bold" textLength="788.72" lengthAdjust="spacingAndGlyphs">Thermal pressure (electrons+ions), given on various grid</text>
<text x="1375.24" y="1436.56" font-size="27.33" fill="#363636" font-weight="bold" textLength="106.62" lengthAdjust="spacingAndGlyphs">subsets</text>
<rect x="1263.4" y="1515.06" width="106.59999999999991" height="3.4" fill="#555"/>
<text x="1296.63" y="1511.36" font-size="29.46" fill="#000" font-weight="bold" textLength="18.30" lengthAdjust="spacingAndGlyphs">1</text>
<text x="1316.43" y="1511.36" font-size="29.46" fill="#000" font-weight="bold" textLength="9.99" lengthAdjust="spacingAndGlyphs">.</text>
<text x="1326.42" y="1511.36" font-size="29.46" fill="#000" font-weight="bold" textLength="9.99" lengthAdjust="spacingAndGlyphs">.</text>
<ellipse cx="1343.7999999999997" cy="1503.1599999999999" rx="3.7" ry="4.9" fill="none" stroke="#111" stroke-width="2.0"/>
<ellipse cx="1352.1999999999998" cy="1503.1599999999999" rx="3.7" ry="4.9" fill="none" stroke="#111" stroke-width="2.0"/>
<path d="M1383.0,1475.36 H1753.1 A13.5,13.5 0 0 1 1766.6,1488.86 V1544.76 A13.5,13.5 0 0 1 1753.1,1558.26 H1383.0 A13.5,13.5 0 0 1 1369.5,1544.76 V1488.86 A13.5,13.5 0 0 1 1383.0,1475.36 Z" transform="translate(4,4.5)" fill="#6f6885" opacity="0.65" filter="url(#blur)"/>
<clipPath id="c9"><path d="M1383.0,1475.36 H1753.1 A13.5,13.5 0 0 1 1766.6,1488.86 V1544.76 A13.5,13.5 0 0 1 1753.1,1558.26 H1383.0 A13.5,13.5 0 0 1 1369.5,1544.76 V1488.86 A13.5,13.5 0 0 1 1383.0,1475.36 Z"/></clipPath>
<g clip-path="url(#c9)">
<rect x="1368.5" y="1474.36" width="399.0999999999999" height="43" fill="url(#hdr)"/>
<rect x="1368.5" y="1517.36" width="399.0999999999999" height="2" fill="#f8f8f8"/>
<rect x="1368.5" y="1518.86" width="93.5" height="40.40000000000009" fill="#e5e5e5"/>
<rect x="1462" y="1518.86" width="2" height="40.40000000000009" fill="#fafafa"/>
<rect x="1464" y="1518.86" width="303.5999999999999" height="40.40000000000009" fill="#f1f1f1"/>
</g>
<path d="M1383.0,1475.36 H1753.1 A13.5,13.5 0 0 1 1766.6,1488.86 V1544.76 A13.5,13.5 0 0 1 1753.1,1558.26 H1383.0 A13.5,13.5 0 0 1 1369.5,1544.76 V1488.86 A13.5,13.5 0 0 1 1383.0,1475.36 Z" fill="none" stroke="#000" stroke-width="2.2"/>
<text x="1381.29" y="1505.16" font-size="29.46" fill="#000" font-weight="bold" textLength="350.53" lengthAdjust="spacingAndGlyphs">pressure_perpendicular</text>
<text x="1378.87" y="1546.56" font-size="29.46" fill="#000" font-weight="bold" textLength="71.75" lengthAdjust="spacingAndGlyphs">Type</text>
<text x="1472.22" y="1546.56" font-size="29.46" fill="#000" font-weight="bold" textLength="285.46" lengthAdjust="spacingAndGlyphs">generic_grid_scalar</text>
<circle cx="1783.6" cy="1516.76" r="10.7" fill="#fff" stroke="#1a1a1a" stroke-width="1.7"/>
<line x1="1776.8" y1="1516.76" x2="1790.3999999999999" y2="1516.76" stroke="#111" stroke-width="1.8"/>
<line x1="1783.6" y1="1509.96" x2="1783.6" y2="1523.56" stroke="#111" stroke-width="1.9"/>
<path d="M1383,1581.1599999999999 H1395 L1407,1568.1599999999999 L1419,1581.1599999999999 H2164 A14,14 0 0 1 2178,1595.1599999999999 V1651.06 A14,14 0 0 1 2164,1665.06 H1383 A14,14 0 0 1 1369,1651.06 V1595.1599999999999 A14,14 0 0 1 1383,1581.1599999999999 Z" fill="url(#annl)" stroke="#bdb8ca" stroke-width="1.8"/>
<text x="1376.38" y="1613.66" font-size="27.33" fill="#363636" font-weight="bold" textLength="634.55" lengthAdjust="spacingAndGlyphs">Total perpendicular pressure (electrons+ions,</text>
<text x="1376.18" y="1649.06" font-size="27.33" fill="#363636" font-weight="bold" textLength="733.87" lengthAdjust="spacingAndGlyphs">thermal+non-thermal), given on various grid subsets</text>
<rect x="1263.4" y="1727.56" width="106.59999999999991" height="3.4" fill="#555"/>
<text x="1296.63" y="1723.86" font-size="29.46" fill="#000" font-weight="bold" textLength="18.30" lengthAdjust="spacingAndGlyphs">1</text>
<text x="1316.43" y="1723.86" font-size="29.46" fill="#000" font-weight="bold" textLength="9.99" lengthAdjust="spacingAndGlyphs">.</text>
<text x="1326.42" y="1723.86" font-size="29.46" fill="#000" font-weight="bold" textLength="9.99" lengthAdjust="spacingAndGlyphs">.</text>
<ellipse cx="1343.7999999999997" cy="1715.6599999999999" rx="3.7" ry="4.9" fill="none" stroke="#111" stroke-width="2.0"/>
<ellipse cx="1352.1999999999998" cy="1715.6599999999999" rx="3.7" ry="4.9" fill="none" stroke="#111" stroke-width="2.0"/>
<path d="M1383.0,1687.86 H1753.1 A13.5,13.5 0 0 1 1766.6,1701.36 V1757.26 A13.5,13.5 0 0 1 1753.1,1770.76 H1383.0 A13.5,13.5 0 0 1 1369.5,1757.26 V1701.36 A13.5,13.5 0 0 1 1383.0,1687.86 Z" transform="translate(4,4.5)" fill="#6f6885" opacity="0.65" filter="url(#blur)"/>
<clipPath id="c10"><path d="M1383.0,1687.86 H1753.1 A13.5,13.5 0 0 1 1766.6,1701.36 V1757.26 A13.5,13.5 0 0 1 1753.1,1770.76 H1383.0 A13.5,13.5 0 0 1 1369.5,1757.26 V1701.36 A13.5,13.5 0 0 1 1383.0,1687.86 Z"/></clipPath>
<g clip-path="url(#c10)">
<rect x="1368.5" y="1686.86" width="399.0999999999999" height="43" fill="url(#hdr)"/>
<rect x="1368.5" y="1729.86" width="399.0999999999999" height="2" fill="#f8f8f8"/>
<rect x="1368.5" y="1731.36" width="93.5" height="40.40000000000009" fill="#e5e5e5"/>
<rect x="1462" y="1731.36" width="2" height="40.40000000000009" fill="#fafafa"/>
<rect x="1464" y="1731.36" width="303.5999999999999" height="40.40000000000009" fill="#f1f1f1"/>
</g>
<path d="M1383.0,1687.86 H1753.1 A13.5,13.5 0 0 1 1766.6,1701.36 V1757.26 A13.5,13.5 0 0 1 1753.1,1770.76 H1383.0 A13.5,13.5 0 0 1 1369.5,1757.26 V1701.36 A13.5,13.5 0 0 1 1383.0,1687.86 Z" fill="none" stroke="#000" stroke-width="2.2"/>
<text x="1381.29" y="1717.66" font-size="29.46" fill="#000" font-weight="bold" textLength="255.80" lengthAdjust="spacingAndGlyphs">pressure_parallel</text>
<text x="1378.87" y="1759.06" font-size="29.46" fill="#000" font-weight="bold" textLength="71.75" lengthAdjust="spacingAndGlyphs">Type</text>
<text x="1472.22" y="1759.06" font-size="29.46" fill="#000" font-weight="bold" textLength="285.46" lengthAdjust="spacingAndGlyphs">generic_grid_scalar</text>
<circle cx="1783.6" cy="1729.26" r="10.7" fill="#fff" stroke="#1a1a1a" stroke-width="1.7"/>
<line x1="1776.8" y1="1729.26" x2="1790.3999999999999" y2="1729.26" stroke="#111" stroke-width="1.8"/>
<line x1="1783.6" y1="1722.46" x2="1783.6" y2="1736.06" stroke="#111" stroke-width="1.9"/>
<path d="M1383,1793.6599999999999 H1395 L1407,1780.6599999999999 L1419,1793.6599999999999 H2164 A14,14 0 0 1 2178,1807.6599999999999 V1863.56 A14,14 0 0 1 2164,1877.56 H1383 A14,14 0 0 1 1369,1863.56 V1807.6599999999999 A14,14 0 0 1 1383,1793.6599999999999 Z" fill="url(#annl)" stroke="#bdb8ca" stroke-width="1.8"/>
<text x="1376.38" y="1826.16" font-size="27.33" fill="#363636" font-weight="bold" textLength="546.66" lengthAdjust="spacingAndGlyphs">Total parallel pressure (electrons+ions,</text>
<text x="1376.18" y="1861.56" font-size="27.33" fill="#363636" font-weight="bold" textLength="733.87" lengthAdjust="spacingAndGlyphs">thermal+non-thermal), given on various grid subsets</text>
<rect x="1263.4" y="1940.06" width="106.59999999999991" height="3.4" fill="#555"/>
<text x="1296.63" y="1936.36" font-size="29.46" fill="#000" font-weight="bold" textLength="18.30" lengthAdjust="spacingAndGlyphs">1</text>
<text x="1316.43" y="1936.36" font-size="29.46" fill="#000" font-weight="bold" textLength="9.99" lengthAdjust="spacingAndGlyphs">.</text>
<text x="1326.42" y="1936.36" font-size="29.46" fill="#000" font-weight="bold" textLength="9.99" lengthAdjust="spacingAndGlyphs">.</text>
<ellipse cx="1343.7999999999997" cy="1928.1599999999999" rx="3.7" ry="4.9" fill="none" stroke="#111" stroke-width="2.0"/>
<ellipse cx="1352.1999999999998" cy="1928.1599999999999" rx="3.7" ry="4.9" fill="none" stroke="#111" stroke-width="2.0"/>
<path d="M1383.0,1900.36 H1953.4 A13.5,13.5 0 0 1 1966.9,1913.86 V1969.76 A13.5,13.5 0 0 1 1953.4,1983.26 H1383.0 A13.5,13.5 0 0 1 1369.5,1969.76 V1913.86 A13.5,13.5 0 0 1 1383.0,1900.36 Z" transform="translate(4,4.5)" fill="#6f6885" opacity="0.65" filter="url(#blur)"/>
<clipPath id="c11"><path d="M1383.0,1900.36 H1953.4 A13.5,13.5 0 0 1 1966.9,1913.86 V1969.76 A13.5,13.5 0 0 1 1953.4,1983.26 H1383.0 A13.5,13.5 0 0 1 1369.5,1969.76 V1913.86 A13.5,13.5 0 0 1 1383.0,1900.36 Z"/></clipPath>
<g clip-path="url(#c11)">
<rect x="1368.5" y="1899.36" width="599.4000000000001" height="43" fill="url(#hdr)"/>
<rect x="1368.5" y="1942.36" width="599.4000000000001" height="2" fill="#f8f8f8"/>
<rect x="1368.5" y="1943.86" width="93.5" height="40.40000000000009" fill="#e5e5e5"/>
<rect x="1462" y="1943.86" width="2" height="40.40000000000009" fill="#fafafa"/>
<rect x="1464" y="1943.86" width="503.9000000000001" height="40.40000000000009" fill="#f1f1f1"/>
</g>
<path d="M1383.0,1900.36 H1953.4 A13.5,13.5 0 0 1 1966.9,1913.86 V1969.76 A13.5,13.5 0 0 1 1953.4,1983.26 H1383.0 A13.5,13.5 0 0 1 1369.5,1969.76 V1913.86 A13.5,13.5 0 0 1 1383.0,1900.36 Z" fill="none" stroke="#000" stroke-width="2.2"/>
<text x="1384.37" y="1930.16" font-size="29.46" fill="#000" font-weight="bold" textLength="183.32" lengthAdjust="spacingAndGlyphs">j_anomalous</text>
<text x="1378.87" y="1971.56" font-size="29.46" fill="#000" font-weight="bold" textLength="71.75" lengthAdjust="spacingAndGlyphs">Type</text>
<text x="1472.22" y="1971.56" font-size="29.46" fill="#000" font-weight="bold" textLength="485.54" lengthAdjust="spacingAndGlyphs">generic_grid_vector_components</text>
<circle cx="1983.9" cy="1941.76" r="10.7" fill="#fff" stroke="#1a1a1a" stroke-width="1.7"/>
<line x1="1977.1000000000001" y1="1941.76" x2="1990.7" y2="1941.76" stroke="#111" stroke-width="1.8"/>
<line x1="1983.9" y1="1934.96" x2="1983.9" y2="1948.56" stroke="#111" stroke-width="1.9"/>
<path d="M1383,2006.1599999999999 H1395 L1407,1993.1599999999999 L1419,2006.1599999999999 H2160 A14,14 0 0 1 2174,2020.1599999999999 V2040.6599999999999 A14,14 0 0 1 2160,2054.66 H1383 A14,14 0 0 1 1369,2040.6599999999999 V2020.1599999999999 A14,14 0 0 1 1383,2006.1599999999999 Z" fill="url(#annl)" stroke="#bdb8ca" stroke-width="1.8"/>
<text x="1376.38" y="2038.66" font-size="27.33" fill="#363636" font-weight="bold" textLength="797.15" lengthAdjust="spacingAndGlyphs">Anomalous current density, given on various grid subsets</text>
<rect x="1263.4" y="2116.86" width="106.59999999999991" height="3.4" fill="#555"/>
<text x="1296.63" y="2113.16" font-size="29.46" fill="#000" font-weight="bold" textLength="18.30" lengthAdjust="spacingAndGlyphs">1</text>
<text x="1316.43" y="2113.16" font-size="29.46" fill="#000" font-weight="bold" textLength="9.99" lengthAdjust="spacingAndGlyphs">.</text>
<text x="1326.42" y="2113.16" font-size="29.46" fill="#000" font-weight="bold" textLength="9.99" lengthAdjust="spacingAndGlyphs">.</text>
<ellipse cx="1343.7999999999997" cy="2104.96" rx="3.7" ry="4.9" fill="none" stroke="#111" stroke-width="2.0"/>
<ellipse cx="1352.1999999999998" cy="2104.96" rx="3.7" ry="4.9" fill="none" stroke="#111" stroke-width="2.0"/>
<path d="M1383.0,2077.16 H1953.4 A13.5,13.5 0 0 1 1966.9,2090.66 V2146.56 A13.5,13.5 0 0 1 1953.4,2160.06 H1383.0 A13.5,13.5 0 0 1 1369.5,2146.56 V2090.66 A13.5,13.5 0 0 1 1383.0,2077.16 Z" transform="translate(4,4.5)" fill="#6f6885" opacity="0.65" filter="url(#blur)"/>
<clipPath id="c12"><path d="M1383.0,2077.16 H1953.4 A13.5,13.5 0 0 1 1966.9,2090.66 V2146.56 A13.5,13.5 0 0 1 1953.4,2160.06 H1383.0 A13.5,13.5 0 0 1 1369.5,2146.56 V2090.66 A13.5,13.5 0 0 1 1383.0,2077.16 Z"/></clipPath>
<g clip-path="url(#c12)">
<rect x="1368.5" y="2076.16" width="599.4000000000001" height="43" fill="url(#hdr)"/>
<rect x="1368.5" y="2119.16" width="599.4000000000001" height="2" fill="#f8f8f8"/>
<rect x="1368.5" y="2120.66" width="93.5" height="40.40000000000009" fill="#e5e5e5"/>
<rect x="1462" y="2120.66" width="2" height="40.40000000000009" fill="#fafafa"/>
<rect x="1464" y="2120.66" width="503.9000000000001" height="40.40000000000009" fill="#f1f1f1"/>
</g>
<path d="M1383.0,2077.16 H1953.4 A13.5,13.5 0 0 1 1966.9,2090.66 V2146.56 A13.5,13.5 0 0 1 1953.4,2160.06 H1383.0 A13.5,13.5 0 0 1 1369.5,2146.56 V2090.66 A13.5,13.5 0 0 1 1383.0,2077.16 Z" fill="none" stroke="#000" stroke-width="2.2"/>
<text x="1384.37" y="2106.96" font-size="29.46" fill="#000" font-weight="bold" textLength="129.06" lengthAdjust="spacingAndGlyphs">j_inertial</text>
<text x="1378.87" y="2148.36" font-size="29.46" fill="#000" font-weight="bold" textLength="71.75" lengthAdjust="spacingAndGlyphs">Type</text>
<text x="1472.22" y="2148.36" font-size="29.46" fill="#000" font-weight="bold" textLength="485.54" lengthAdjust="spacingAndGlyphs">generic_grid_vector_components</text>
<circle cx="1983.9" cy="2118.56" r="10.7" fill="#fff" stroke="#1a1a1a" stroke-width="1.7"/>
<line x1="1977.1000000000001" y1="2118.56" x2="1990.7" y2="2118.56" stroke="#111" stroke-width="1.8"/>
<line x1="1983.9" y1="2111.7599999999998" x2="1983.9" y2="2125.36" stroke="#111" stroke-width="1.9"/>
<path d="M1383,2182.96 H1395 L1407,2169.96 L1419,2182.96 H2110.3 A14,14 0 0 1 2124.3,2196.96 V2217.46 A14,14 0 0 1 2110.3,2231.46 H1383 A14,14 0 0 1 1369,2217.46 V2196.96 A14,14 0 0 1 1383,2182.96 Z" fill="url(#annl)" stroke="#bdb8ca" stroke-width="1.8"/>
<text x="1374.26" y="2215.46" font-size="27.33" fill="#363636" font-weight="bold" textLength="745.11" lengthAdjust="spacingAndGlyphs">Inertial current density, given on various grid subsets</text>
</g>
</svg></body></html>
